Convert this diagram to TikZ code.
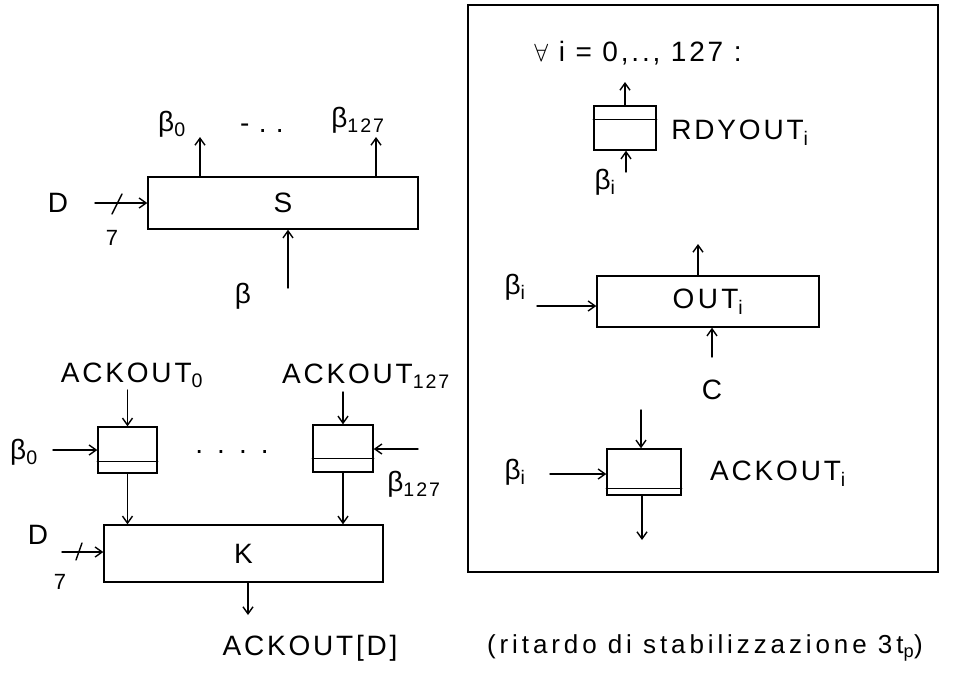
\documentclass[tikz,border=0pt]{standalone}
\usepackage{fontspec}
\setmainfont{Liberation Sans}
\usetikzlibrary{arrows.meta,calc}
\begin{document}
\begin{tikzpicture}[x=1pt,y=-1pt,
  line width=1.4pt, line cap=round,
  >={Straight Barb[length=7pt,width=10pt]},
  lab/.style={inner sep=0pt, font=\fontsize{28}{32}\selectfont\addfontfeature{LetterSpace=10}},
  note/.style={inner sep=0pt, font=\fontsize{26}{30}\selectfont\addfontfeature{LetterSpace=15}},
  small/.style={inner sep=0pt, font=\fontsize{22}{26}\selectfont},
  blk/.style={draw, rectangle, inner sep=0pt, font=\fontsize{28}{32}\selectfont\addfontfeature{LetterSpace=12}},
  reg/.style={draw, rectangle, inner sep=0pt}]
\useasboundingbox (0,0) rectangle (953,678);

% ---------- S ----------
\node[blk, minimum width=270pt, minimum height=52pt] (S) at (283,203) {S};
\node[lab] (b0t) at (172,124) {β\textsubscript{0}};
\node[lab] (dots1) at (262,128) {-\,\,.\,\,.};
\node[lab] (b127t) at (358,120) {β\textsubscript{127}};
\coordinate (b0a) at (200,137);
\coordinate (b127a) at (376,137);
\draw[->] (S.north -| b0a) -- (b0a);
\draw[->] (S.north -| b127a) -- (b127a);
\node[lab] (D1) at (58,203) {D};
\node[small] (n7a) at (112,238) {7};
\coordinate (D1s) at (95,203);
\draw[->] (D1s) -- (D1s -| S.west);
\draw (112,214) -- (122,194);
\node[lab] (beta) at (243,296) {β};
\coordinate (betas) at (288,288);
\draw[->] (betas) -- (betas |- S.south);

% ---------- registers and K ----------
\node[reg, minimum width=59pt, minimum height=46pt] (r0) at (127.5,450) {};
\draw ([yshift=12pt]r0.south west) -- ([yshift=12pt]r0.south east);
\node[reg, minimum width=60pt, minimum height=47pt] (r127) at (343,448.5) {};
\draw ([yshift=14pt]r127.south west) -- ([yshift=14pt]r127.south east);

\node[lab] (ack0) at (132,375) {ACKOUT\textsubscript{0}};
\node[lab] (ack127) at (366,376) {ACKOUT\textsubscript{127}};
\coordinate (ack0s) at (127.5,390);
\coordinate (ack127s) at (343,392);
\draw[->] (ack0s) -- (ack0s |- r0.north);
\draw[->] (ack127s) -- (ack127s |- r127.north);

\node[lab] (b0l) at (24,452) {β\textsubscript{0}};
\coordinate (b0s) at (53,450);
\draw[->] (b0s) -- (b0s -| r0.west);
\node[lab] (dots2) at (232,452) {.\enspace.\enspace.\enspace.};
\node[lab] (b127r) at (414,484) {β\textsubscript{127}};
\coordinate (b127s) at (418,449);
\draw[->] (b127s) -- (b127s -| r127.east);

\node[blk, minimum width=279pt, minimum height=57pt] (K) at (243.5,553.5) {K};
\draw[->] (r0.south) -- (r0.south |- K.north);
\draw[->] (r127.south) -- (r127.south |- K.north);
\node[lab] (D2) at (38,535) {D};
\node[small] (n7b) at (60,582) {7};
\coordinate (D2s) at (62,552);
\draw[->] (D2s) -- (D2s -| K.west);
\draw (76,560) -- (82,543);
\node[lab] (ackD) at (310,648) {ACKOUT[D]};
\coordinate (kout) at (248,615);
\draw[->] (kout |- K.south) -- (kout);
\node[note] (notet) at (705,648) {(ritardo di stabilizzazione 3t\textsubscript{p})};

% ---------- right panel ----------
\node[draw, rectangle, minimum width=470pt, minimum height=567pt, inner sep=0pt] (frame) at (703,288.5) {};
\node[lab] (forall) at (638,53) {$\forall$ i = 0,.., 127 :};

\node[reg, minimum width=62pt, minimum height=44pt] (rdy) at (625,128) {};
\draw ([yshift=-14pt]rdy.north west) -- ([yshift=-14pt]rdy.north east);
\node[lab] (rdyl) at (740,133) {RDYOUT\textsubscript{i}};
\coordinate (rdyo) at (625,82);
\draw[->] (rdy.north -| rdyo) -- (rdyo);
\node[lab] (bi1) at (605,182) {β\textsubscript{i}};
\coordinate (bi1s) at (626,172);
\draw[->] (bi1s) -- (bi1s |- rdy.south);

\node[blk, minimum width=222pt, minimum height=51pt] (OUT) at (708,301.5) {OUT\textsubscript{i}};
\coordinate (outo) at (698,244);
\draw[->] (OUT.north -| outo) -- (outo);
\node[lab] (C) at (712,390) {C};
\coordinate (cs) at (712,357);
\draw[->] (cs) -- (cs |- OUT.south);
\node[lab] (bi2) at (515,287) {β\textsubscript{i}};
\coordinate (bi2s) at (537,306);
\draw[->] (bi2s) -- (bi2s -| OUT.west);

\node[reg, minimum width=74pt, minimum height=46pt] (acki) at (644,472) {};
\draw ([yshift=7pt]acki.south west) -- ([yshift=7pt]acki.south east);
\node[lab] (ackil) at (778,474) {ACKOUT\textsubscript{i}};
\coordinate (ackin) at (641,410);
\draw[->] (ackin) -- (ackin |- acki.north);
\coordinate (ackio) at (642,540);
\draw[->] (acki.south -| ackio) -- (ackio);
\node[lab] (bi3) at (515,472) {β\textsubscript{i}};
\coordinate (bi3s) at (550,474);
\draw[->] (bi3s) -- (bi3s -| acki.west);
\end{tikzpicture}
\end{document}
